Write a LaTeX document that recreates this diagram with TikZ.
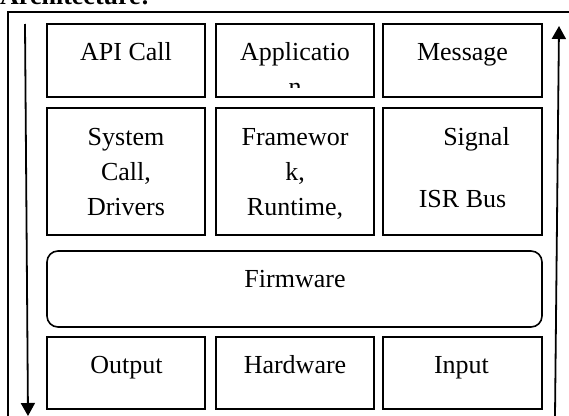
\documentclass[tikz,border=0pt]{standalone}
\usepackage{fontspec}
\setmainfont{Liberation Serif}
\usetikzlibrary{arrows.meta}
\tikzset{
  cell/.style={draw, line width=1.6pt, inner sep=0pt},
  txt/.style={anchor=base, inner sep=0pt, font=\fontsize{26}{35}\selectfont},
  flow/.style={line width=1.8pt, -{Triangle[width=14pt,length=13pt]}},
  frame/.style={line width=1.4pt}
}
\begin{document}
\begin{tikzpicture}[x=1pt,y=-1pt]
\useasboundingbox (0,0) rectangle (569,415);
% title
\node[txt, anchor=base west, font=\fontsize{26}{35}\selectfont\bfseries] (title) at (0,5) {Architecture:};
% outer frame
\draw[frame] (8,430) -- (8,12) -- (580,12);
% boxes
\node[cell, minimum width=158pt, minimum height=73pt] (b11) at (126,60.5) {};
\node[cell, minimum width=158pt, minimum height=73pt] (b12) at (295,60.5) {};
\node[cell, minimum width=159pt, minimum height=73pt] (b13) at (462.5,60.5) {};
\node[cell, minimum width=158pt, minimum height=127pt] (b21) at (126,171.5) {};
\node[cell, minimum width=158pt, minimum height=127pt] (b22) at (295,171.5) {};
\node[cell, minimum width=159pt, minimum height=127pt] (b23) at (462.5,171.5) {};
\node[cell, rounded corners=11pt, minimum width=495pt, minimum height=76pt] (fw) at (294.5,289) {};
\node[cell, minimum width=158pt, minimum height=72pt] (b41) at (126,373) {};
\node[cell, minimum width=158pt, minimum height=72pt] (b42) at (295,373) {};
\node[cell, minimum width=159pt, minimum height=72pt] (b43) at (462.5,373) {};
% texts
\node[txt] (t1) at (126,60) {API Call};
\node[txt] (t2) at (295,60) {Applicatio};
\begin{scope}
\clip (216,60) rectangle (374,87.5);
\node[txt] (t2b) at (295,95) {n};
\end{scope}
\node[txt] (t3) at (462.5,60) {Message};
\node[txt] (t4a) at (126,145) {System};
\node[txt] (t4b) at (126,180) {Call,};
\node[txt] (t4c) at (126,215) {Drivers};
\node[txt] (t5a) at (295,145) {Framewor};
\node[txt] (t5b) at (295,180) {k,};
\node[txt] (t5c) at (295,215) {Runtime,};
\node[txt] (t6a) at (476.5,145) {Signal};
\node[txt] (t6b) at (462.5,207) {ISR Bus};
\node[txt] (t7) at (295,287) {Firmware};
\node[txt] (t8) at (126.5,373) {Output};
\node[txt] (t9) at (295,373) {Hardware};
\node[txt] (t10) at (461.5,373) {Input};
% arrows
\coordinate (ls) at (25,24);
\coordinate (le) at (28,416);
\coordinate (rs) at (555,416);
\coordinate (re) at (559,26);
\draw[flow] (ls) -- (le);
\draw[flow] (rs) -- (re);
\end{tikzpicture}
\end{document}
